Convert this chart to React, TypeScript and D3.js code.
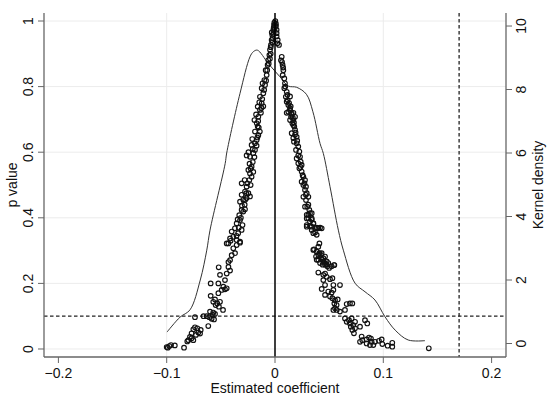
import React from "react";
import * as d3 from "d3";

const xTicks = [-0.2, -0.1, 0, 0.1, 0.2];
const xGrid = [-0.1, 0, 0.1];
const pTicks = [0, 0.2, 0.4, 0.6, 0.8, 1];
const dTicks = [0, 2, 4, 6, 8, 10];
const pThreshold = 0.1;
const coefMarker = 0.17;

const densityCurve: [number, number][] = [
  [-0.0997, 0.36], [-0.0877, 0.83], [-0.0785, 1.06], [-0.069, 2.0], [-0.063, 2.94],
  [-0.06, 3.57], [-0.046, 5.67], [-0.0446, 6.0], [-0.0323, 7.88], [-0.0231, 9.03],
  [-0.02, 9.19], [-0.0163, 9.24], [-0.0062, 8.82], [0.0046, 8.4], [0.0123, 8.11],
  [0.02, 8.07], [0.029, 7.85], [0.035, 7.3], [0.0416, 6.3], [0.0446, 5.99],
  [0.0508, 4.94], [0.0585, 3.57], [0.0631, 2.94], [0.0739, 1.9], [0.0831, 1.63],
  [0.0923, 1.37], [0.1016, 0.84], [0.111, 0.42], [0.123, 0.11], [0.1385, 0.09],
];

const leftPoints: [number, number][] = [
  [-0.1, 0.006], [-0.099, 0.004], [-0.0975, 0.009], [-0.096, 0.012], [-0.0925, 0.011], [-0.084, 0.004],
  [-0.08, 0.027], [-0.0785, 0.037], [-0.077, 0.048], [-0.0754, 0.06], [-0.0739, 0.066], [-0.0717, 0.063],
  [-0.0686, 0.058], [-0.0708, 0.05], [-0.073, 0.043], [-0.077, 0.033], [-0.0692, 0.047], [-0.081, 0.023],
  [-0.0754, 0.027], [-0.0616, 0.07],
  [-0.0739, 0.097], [-0.066, 0.1], [-0.063, 0.1], [-0.0607, 0.097], [-0.0585, 0.092], [-0.0563, 0.09],
  [-0.0575, 0.104], [-0.0554, 0.107], [-0.048, 0.119], [-0.06, 0.114], [-0.057, 0.111],
  [-0.0594, 0.162], [-0.057, 0.144], [-0.0554, 0.151], [-0.0533, 0.139], [-0.0508, 0.144], [-0.0523, 0.17],
  [-0.0492, 0.18], [-0.0477, 0.19], [-0.0462, 0.182], [-0.0446, 0.185], [-0.0518, 0.129], [-0.0548, 0.134],
  [-0.0594, 0.2], [-0.0523, 0.2], [-0.0508, 0.226], [-0.0462, 0.21], [-0.0446, 0.23], [-0.0415, 0.239],
  [-0.052, 0.249], [-0.043, 0.25], [-0.0415, 0.271], [-0.04, 0.286], [-0.043, 0.265], [-0.0369, 0.292],
  [-0.0385, 0.307], [-0.0354, 0.317], [-0.0323, 0.324], [-0.0431, 0.322], [-0.041, 0.33],
  [-0.0446, 0.322], [-0.0415, 0.337], [-0.0385, 0.342], [-0.0354, 0.332], [-0.0323, 0.327], [-0.04, 0.358],
  [-0.037, 0.368], [-0.034, 0.353], [-0.0308, 0.363], [-0.0354, 0.383], [-0.0323, 0.393], [-0.03, 0.378],
  [-0.033, 0.408], [-0.0293, 0.419], [-0.0308, 0.424], [-0.0277, 0.426], [-0.0323, 0.449], [-0.0293, 0.455],
  [-0.0262, 0.46], [-0.0308, 0.47], [-0.0277, 0.48], [-0.0246, 0.475], [-0.0308, 0.505], [-0.0231, 0.465],
  [-0.0262, 0.495], [-0.0237, 0.515], [-0.0216, 0.525], [-0.0231, 0.535], [-0.0246, 0.546], [-0.0216, 0.556],
  [-0.02, 0.54], [-0.0231, 0.586], [-0.0262, 0.59], [-0.02, 0.597], [-0.0185, 0.607], [-0.0216, 0.622],
  [-0.0185, 0.627], [-0.0169, 0.637], [-0.0154, 0.652], [-0.0185, 0.663], [-0.014, 0.663], [-0.0163, 0.645],
  [-0.0169, 0.688], [-0.0154, 0.708], [-0.0139, 0.729], [-0.016, 0.739], [-0.0123, 0.749], [-0.0139, 0.769],
  [-0.0108, 0.78], [-0.0123, 0.795], [-0.0092, 0.805], [-0.0098, 0.82], [-0.0077, 0.835], [-0.0086, 0.85],
  [-0.0068, 0.866], [-0.0062, 0.881], [-0.0052, 0.896], [-0.0046, 0.912], [-0.0037, 0.927], [-0.0031, 0.942],
  [-0.0025, 0.957], [-0.0015, 0.973], [-0.0009, 0.988], [-0.0006, 0.995], [0.0, 0.985], [-0.0015, 0.96],
  [-0.0025, 0.935], [-0.004, 0.92], [-0.016, 0.678], [-0.019, 0.698], [-0.013, 0.72], [-0.0108, 0.74],
];

const leftExtra: [number, number][] = [
  [-0.0355, 0.345], [-0.0335, 0.37], [-0.0315, 0.4], [-0.0345, 0.395], [-0.028, 0.44], [-0.0305, 0.437],
  [-0.0265, 0.475], [-0.0255, 0.505], [-0.028, 0.515], [-0.0225, 0.5], [-0.0225, 0.55], [-0.0205, 0.57],
  [-0.0235, 0.565], [-0.019, 0.585], [-0.0205, 0.61], [-0.017, 0.62], [-0.015, 0.675], [-0.0175, 0.715],
  [-0.0145, 0.752], [-0.0118, 0.762], [-0.0115, 0.81], [-0.0082, 0.818], [-0.0072, 0.85], [-0.0058, 0.87],
  [-0.0047, 0.885], [-0.004, 0.9], [-0.0022, 0.948], [-0.0012, 0.98], [-0.0005, 0.975], [-0.003, 0.965],
  [-0.0155, 0.695], [-0.0125, 0.735], [-0.01, 0.79], [-0.021, 0.64], [-0.0245, 0.6], [-0.0275, 0.455],
];

const rightPoints: [number, number][] = [
  [0.0015, 0.973], [0.0015, 0.953], [0.0022, 0.932], [0.0037, 0.927], [0.0003, 1.0], [0.0009, 0.985],
  [0.0062, 0.891], [0.0055, 0.88], [0.007, 0.866], [0.0077, 0.85], [0.0071, 0.835], [0.0086, 0.825],
  [0.0092, 0.81], [0.0086, 0.795], [0.0108, 0.784], [0.01, 0.769], [0.0117, 0.759], [0.0123, 0.744],
  [0.0139, 0.734], [0.0123, 0.723], [0.0154, 0.718], [0.0148, 0.708], [0.0169, 0.698], [0.016, 0.688],
  [0.0178, 0.678], [0.0108, 0.72], [0.0139, 0.77], [0.0185, 0.668],
  [0.0108, 0.754], [0.0139, 0.729], [0.0154, 0.714], [0.017, 0.72], [0.0185, 0.708], [0.0139, 0.698],
  [0.0169, 0.683], [0.0154, 0.658], [0.0185, 0.653], [0.0169, 0.643], [0.02, 0.647], [0.0175, 0.632],
  [0.02, 0.627], [0.0215, 0.617], [0.0194, 0.607], [0.0225, 0.602], [0.02, 0.581], [0.0231, 0.586],
  [0.0237, 0.571], [0.0215, 0.566], [0.0246, 0.561], [0.0225, 0.551], [0.0246, 0.541], [0.0262, 0.525],
  [0.0277, 0.515], [0.0246, 0.51], [0.0262, 0.5], [0.0286, 0.495], [0.0277, 0.485], [0.0293, 0.475],
  [0.0262, 0.464], [0.0308, 0.464], [0.0286, 0.454], [0.0298, 0.434], [0.0317, 0.424], [0.0339, 0.414],
  [0.0308, 0.409], [0.0293, 0.398], [0.0339, 0.398], [0.0323, 0.388], [0.0354, 0.383], [0.0293, 0.373],
  [0.0339, 0.373], [0.0385, 0.37], [0.0416, 0.37],
  [0.0354, 0.302], [0.0385, 0.297], [0.04, 0.287], [0.0431, 0.292], [0.0446, 0.277], [0.0462, 0.282],
  [0.0477, 0.267], [0.0385, 0.272], [0.0416, 0.262], [0.0462, 0.257], [0.0492, 0.262], [0.0548, 0.256],
  [0.04, 0.233], [0.0446, 0.226], [0.0462, 0.23], [0.0477, 0.22], [0.0446, 0.21], [0.0508, 0.213],
  [0.053, 0.216], [0.0462, 0.195], [0.0539, 0.195], [0.06, 0.195], [0.0431, 0.183], [0.0462, 0.165],
  [0.0492, 0.175], [0.0523, 0.172], [0.0539, 0.18], [0.0508, 0.16], [0.053, 0.155], [0.0554, 0.149],
  [0.0579, 0.151], [0.0548, 0.139], [0.0569, 0.134], [0.0539, 0.119], [0.057, 0.119], [0.06, 0.114],
  [0.0554, 0.124], [0.0646, 0.119], [0.0662, 0.137], [0.0692, 0.139], [0.0714, 0.139], [0.0646, 0.093],
  [0.0662, 0.083], [0.0683, 0.088], [0.0708, 0.093], [0.0739, 0.083], [0.0692, 0.078], [0.0723, 0.073],
  [0.0714, 0.058], [0.0729, 0.048], [0.0739, 0.063], [0.07, 0.068], [0.0785, 0.068], [0.0831, 0.088],
  [0.0852, 0.078], [0.08, 0.038], [0.0806, 0.027], [0.0846, 0.029], [0.0868, 0.035], [0.0886, 0.032],
  [0.0846, 0.017], [0.0877, 0.012], [0.0892, 0.022], [0.0908, 0.012], [0.0785, 0.022], [0.096, 0.025],
  [0.0985, 0.029], [0.0991, 0.015], [0.104, 0.01], [0.1083, 0.019], [0.1083, 0.007], [0.142, 0.002],
  [0.0923, 0.022],
];

const rightExtra: [number, number][] = [
  [0.0277, 0.434], [0.0308, 0.44], [0.0293, 0.409], [0.0308, 0.399], [0.0323, 0.414], [0.0339, 0.394],
  [0.0354, 0.383], [0.0293, 0.378], [0.0323, 0.375], [0.037, 0.368], [0.0339, 0.363], [0.037, 0.355],
  [0.0354, 0.353], [0.04, 0.368], [0.0431, 0.368], [0.0385, 0.348],
  [0.041, 0.322], [0.04, 0.312], [0.036, 0.304], [0.0385, 0.297], [0.041, 0.292], [0.0379, 0.282],
  [0.0425, 0.287], [0.04, 0.272], [0.0431, 0.274], [0.0446, 0.267], [0.0462, 0.262], [0.0477, 0.257],
  [0.044, 0.257], [0.0483, 0.252], [0.0545, 0.256], [0.0523, 0.252], [0.05, 0.247],
  [0.0015, 0.963], [0.0008, 0.992], [0.0025, 0.942], [0.0065, 0.875], [0.0075, 0.858], [0.0095, 0.8],
  [0.0115, 0.775], [0.013, 0.75], [0.0145, 0.74], [0.0165, 0.705], [0.0175, 0.69], [0.019, 0.66],
  [0.0205, 0.635], [0.0215, 0.59], [0.0235, 0.555], [0.0255, 0.53], [0.0272, 0.505], [0.0285, 0.47],
];

const W = 550;
const H = 403;
const left = 44;
const right = 506;
const top = 13;
const bottom = 357;

const x = d3.scaleLinear().domain([-0.2133, 0.2133]).range([left, right]);
const yP = d3.scaleLinear().domain([-0.0244, 1.0244]).range([bottom, top]);
const yD = d3.scaleLinear().domain([-0.425, 10.41]).range([bottom, top]);

const font = "'Liberation Sans', Arial, Helvetica, sans-serif";
const axisColor = "#666";
const gridColor = "#ececec";

export default function App() {
  const line = d3
    .line<[number, number]>()
    .x((d) => x(d[0]))
    .y((d) => yD(d[1]))
    .curve(d3.curveCatmullRom.alpha(0.5));
  const pts = [...leftPoints, ...leftExtra, ...rightPoints, ...rightExtra];
  const fmt = (v: number) => (v < 0 ? "\u2212" + String(Math.abs(v)) : String(v));
  return (
    <svg
      width={W}
      height={H}
      style={{ position: "fixed", left: 0, top: 0, background: "#fff" }}
      fontFamily={font}
    >
      <rect x={0} y={0} width={W} height={H} fill="#fff" />
      {pTicks.map((t) => (
        <line key={"gp" + t} x1={left} x2={right} y1={yP(t)} y2={yP(t)} stroke={gridColor} strokeWidth={1} />
      ))}
      {xGrid.map((t) => (
        <line key={"gx" + t} x1={x(t)} x2={x(t)} y1={top} y2={bottom} stroke={gridColor} strokeWidth={1} />
      ))}
      <line x1={left} x2={right} y1={yP(pThreshold)} y2={yP(pThreshold)} stroke="#222" strokeWidth={1.3} strokeDasharray="3.5,2.5" />
      <line x1={x(coefMarker)} x2={x(coefMarker)} y1={top} y2={bottom} stroke="#222" strokeWidth={1.3} strokeDasharray="3.5,2.5" />
      <path d={line(densityCurve) || ""} fill="none" stroke="#333" strokeWidth={1} />
      {pts.map((d, i) => (
        <circle key={i} cx={x(d[0])} cy={yP(d[1])} r={2.3} fill="none" stroke="#111" strokeWidth={1.15} />
      ))}
      <line x1={x(0)} x2={x(0)} y1={top} y2={bottom} stroke="#000" strokeWidth={1.5} />
      <line x1={left} x2={left} y1={top} y2={bottom} stroke={axisColor} strokeWidth={1.3} />
      {pTicks.map((t) => (
        <g key={"tp" + t}>
          <line x1={left - 6} x2={left} y1={yP(t)} y2={yP(t)} stroke={axisColor} strokeWidth={1} />
          <text transform={`translate(33,${yP(t)}) rotate(-90)`} textAnchor="middle" fontSize={14} fill="#111">
            {String(t)}
          </text>
        </g>
      ))}
      <text transform={`translate(17,${(top + bottom) / 2}) rotate(-90)`} textAnchor="middle" fontSize={14} fill="#111">
        p value
      </text>
      <line x1={right} x2={right} y1={top} y2={bottom} stroke={axisColor} strokeWidth={1.3} />
      {dTicks.map((t) => (
        <g key={"td" + t}>
          <line x1={right} x2={right + 6} y1={yD(t)} y2={yD(t)} stroke={axisColor} strokeWidth={1} />
          <text transform={`translate(526,${yD(t)}) rotate(-90)`} textAnchor="middle" fontSize={14} fill="#111">
            {String(t)}
          </text>
        </g>
      ))}
      <text transform={`translate(543,${(top + bottom) / 2}) rotate(-90)`} textAnchor="middle" fontSize={14} fill="#111">
        Kernel density
      </text>
      <line x1={left} x2={right} y1={bottom} y2={bottom} stroke={axisColor} strokeWidth={1.3} />
      {xTicks.map((t) => (
        <g key={"tx" + t}>
          <line x1={x(t)} x2={x(t)} y1={bottom} y2={bottom + 6} stroke={axisColor} strokeWidth={1} />
          <text x={x(t)} y={378} textAnchor="middle" fontSize={14} fill="#111">
            {fmt(t)}
          </text>
        </g>
      ))}
      <text x={(left + right) / 2} y={393} textAnchor="middle" fontSize={14} fill="#111">
        Estimated coefficient
      </text>
    </svg>
  );
}
